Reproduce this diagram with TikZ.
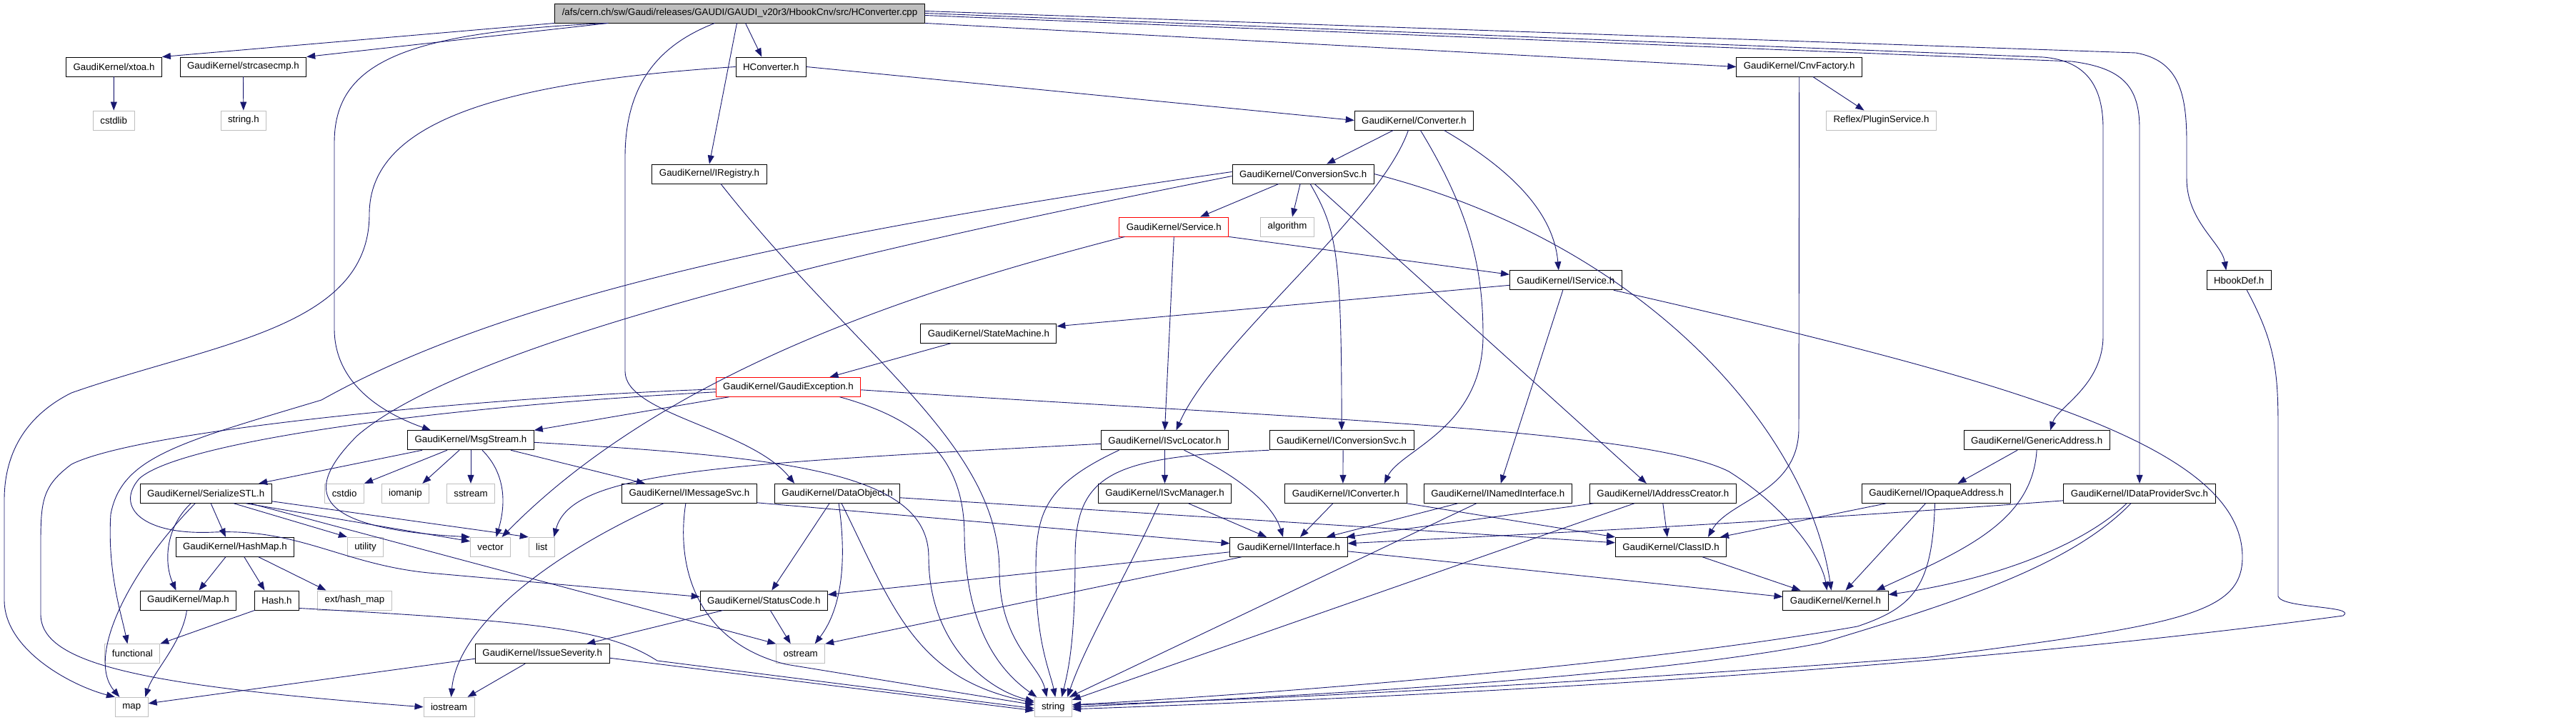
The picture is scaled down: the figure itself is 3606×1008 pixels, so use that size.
\documentclass[tikz,border=0pt]{standalone}
\usepackage{fontspec}
\newfontfamily\hdrfont{Liberation Sans}
\usetikzlibrary{arrows.meta}
\definecolor{edgeblue}{HTML}{191970}
\definecolor{sysgray}{HTML}{BFBFBF}
\tikzset{
  hdr/.style={draw=black, fill=white, line width=0.9pt, minimum height=27pt,
    inner xsep=10pt, inner ysep=0pt, font={\hdrfont\fontsize{13.3}{15}\selectfont}},
  syshdr/.style={hdr, draw=sysgray},
  cuthdr/.style={hdr, draw=red},
  srchdr/.style={hdr, fill=sysgray},
  dep/.style={draw=edgeblue, line width=0.9pt, -{Triangle[length=12pt,width=9pt]}}
}
\begin{document}
\begin{tikzpicture}[x=1pt, y=-1pt]
    \fill[white] (0,0) rectangle (3606,1008);
    \useasboundingbox (0,0) rectangle (3606,1008);

    % Source file
    \node[srchdr] (root) at (1035.5,18.5) {/afs/cern.ch/sw/Gaudi/releases/GAUDI/GAUDI\_v20r3/HbookCnv/src/HConverter.cpp};

    % Headers
    \node[hdr] (xtoa) at (159.5,93.5) {GaudiKernel/xtoa.h};
    \node[hdr] (strcasecmp) at (340.4,93.5) {GaudiKernel/strcasecmp.h};
    \node[hdr] (hconvh) at (1079.3,93.5) {HConverter.h};
    \node[hdr] (cnvfactory) at (2518.7,93.5) {GaudiKernel/CnvFactory.h};
    \node[syshdr] (cstdlib) at (159.2,168.5) {cstdlib};
    \node[syshdr] (stringh) at (340.9,168.5) {string.h};
    \node[hdr] (converter) at (1979.4,168.5) {GaudiKernel/Converter.h};
    \node[syshdr] (pluginsvc) at (2633.5,168.5) {Reflex/PluginService.h};
    \node[hdr] (iregistry) at (993,243.5) {GaudiKernel/IRegistry.h};
    \node[hdr] (conversionsvc) at (1824.1,243.5) {GaudiKernel/ConversionSvc.h};
    \node[cuthdr] (service) at (1643.3,317.5) {GaudiKernel/Service.h};
    \node[syshdr] (algorithm) at (1802,317.5) {algorithm};
    \node[hdr] (iservice) at (2191.8,392.3) {GaudiKernel/IService.h};
    \node[hdr] (hbookdef) at (3134.2,392.3) {HbookDef.h};
    \node[hdr] (statemachine) at (1383.9,466.8) {GaudiKernel/StateMachine.h};
    \node[cuthdr] (gaudiexception) at (1103.5,541.8) {GaudiKernel/GaudiException.h};
    \node[hdr] (msgstream) at (659,616.3) {GaudiKernel/MsgStream.h};
    \node[hdr] (isvclocator) at (1630.5,616.3) {GaudiKernel/ISvcLocator.h};
    \node[hdr] (iconversionsvc) at (1878.1,616.3) {GaudiKernel/IConversionSvc.h};
    \node[hdr] (genericaddr) at (2851.1,616.3) {GaudiKernel/GenericAddress.h};
    \node[hdr] (serializestl) at (288.2,690.8) {GaudiKernel/SerializeSTL.h};
    \node[syshdr] (cstdio) at (482.2,690.8) {cstdio};
    \node[syshdr] (iomanip) at (567.4,690.8) {iomanip};
    \node[syshdr] (sstream) at (659,690.8) {sstream};
    \node[hdr] (imessagesvc) at (964.9,690.8) {GaudiKernel/IMessageSvc.h};
    \node[hdr] (dataobject) at (1172.1,690.8) {GaudiKernel/DataObject.h};
    \node[hdr] (isvcmanager) at (1630.5,690.8) {GaudiKernel/ISvcManager.h};
    \node[hdr] (iconverter) at (1883.9,690.8) {GaudiKernel/IConverter.h};
    \node[hdr] (inamedinterface) at (2096.8,690.8) {GaudiKernel/INamedInterface.h};
    \node[hdr] (iaddresscreator) at (2327.8,690.8) {GaudiKernel/IAddressCreator.h};
    \node[hdr] (iopaqueaddress) at (2710.5,690.8) {GaudiKernel/IOpaqueAddress.h};
    \node[hdr] (idataprovidersvc) at (2995,690.8) {GaudiKernel/IDataProviderSvc.h};
    \node[hdr] (hashmap) at (328.9,765.8) {GaudiKernel/HashMap.h};
    \node[syshdr] (utility) at (511.5,765.8) {utility};
    \node[syshdr] (vector) at (686.6,765.8) {vector};
    \node[syshdr] (list) at (758.3,765.8) {list};
    \node[hdr] (iinterface) at (1804,765.8) {GaudiKernel/IInterface.h};
    \node[hdr] (classid) at (2339,765.8) {GaudiKernel/ClassID.h};
    \node[hdr] (gkmap) at (263.5,840.5) {GaudiKernel/Map.h};
    \node[hdr] (hash) at (387.5,840.5) {Hash.h};
    \node[syshdr] (exthashmap) at (496.5,840.5) {ext/hash\_map};
    \node[hdr] (statuscode) at (1069.3,840.5) {GaudiKernel/StatusCode.h};
    \node[hdr] (kernel) at (2569.5,840.5) {GaudiKernel/Kernel.h};
    \node[syshdr] (functional) at (185.4,915.2) {functional};
    \node[hdr] (issueseverity) at (759.2,915.2) {GaudiKernel/IssueSeverity.h};
    \node[syshdr] (ostream) at (1120.7,915.2) {ostream};
    \node[syshdr] (stdmap) at (184.3,989.8) {map};
    \node[syshdr] (iostream) at (628.5,989.8) {iostream};
    \node[syshdr] (string) at (1474.3,989.8) {string};

    % Includes of the source file
    \draw[dep] (root.south west) -- (xtoa.north east);
    \draw[dep] ([xshift=75pt]root.south west) -- (strcasecmp.north east);
    \draw[dep] ([xshift=8pt]root.south) -- ([xshift=-13pt]hconvh.north);
    \draw[dep] ([xshift=-4pt]root.south) -- (iregistry.north);
    \draw[dep] ([xshift=75pt]root.south west) .. controls (560,45) and (468,90) .. (468,200) -- (468,460) .. controls (468,540) and (540,580) .. ([xshift=-56pt]msgstream.north);
    \draw[dep] ([xshift=-35pt]root.south) .. controls (930,60) and (875,110) .. (875,220) -- (875,520) .. controls (875,580) and (1050,600) .. ([xshift=-60pt]dataobject.north);
    \draw[dep] (root.south east) -- (cnvfactory.west);
    \draw[dep] ([yshift=3pt]root.east) -- (2990,74) .. controls (3050,85) and (3061,130) .. (3061,200) -- (3061,250) .. controls (3061,310) and (3110,340) .. ([xshift=-18pt]hbookdef.north);
    \draw[dep] (root.east) -- (2860,80) .. controls (2920,85) and (2944,120) .. (2944,180) -- (2944,470) .. controls (2944,540) and (2880,570) .. ([xshift=19pt]genericaddr.north);
    \draw[dep] ([yshift=-3pt]root.east) -- (2900,86) .. controls (2970,95) and (2995,120) .. (2995,180) -- (idataprovidersvc.north);

    % Top level headers
    \draw[dep] (xtoa) -- (cstdlib);
    \draw[dep] (strcasecmp) -- (stringh);
    \draw[dep] (hconvh.east) -- (converter.west);
    \draw[dep] (hconvh.west) .. controls (700,115) and (517,170) .. (517,300) .. controls (517,460) and (300,480) .. (100,550) .. controls (40,580) and (6,630) .. (6,700) -- (6,840) .. controls (6,910) and (100,960) .. (stdmap.north west);
    \draw[dep] ([xshift=19pt]cnvfactory.south) -- ([xshift=-24pt]pluginsvc.north);
    \draw[dep] (cnvfactory.south) -- (2518,600) .. controls (2518,690) and (2420,700) .. ([xshift=52pt]classid.north);
    \draw[dep] ([xshift=16pt]iregistry.south) .. controls (1200,500) and (1399,620) .. (1399,800) .. controls (1399,900) and (1455,930) .. ([xshift=-9pt]string.north);

    % Converter
    \draw[dep] ([xshift=-29pt]converter.south) -- ([xshift=33pt]conversionsvc.north);
    \draw[dep] ([xshift=-8pt]converter.south) .. controls (1930,300) and (1700,480) .. ([xshift=16pt]isvclocator.north);
    \draw[dep] ([xshift=9pt]converter.south) .. controls (2060,300) and (2076,380) .. (2076,470) .. controls (2076,600) and (1960,630) .. ([xshift=54pt]iconverter.north);
    \draw[dep] ([xshift=42pt]converter.south) .. controls (2120,240) and (2175,300) .. ([xshift=-10pt]iservice.north);

    % ConversionSvc
    \draw[dep] ([xshift=-34pt]conversionsvc.south) -- ([xshift=37pt]service.north);
    \draw[dep] ([xshift=-4pt]conversionsvc.south) -- ([xshift=7pt]algorithm.north);
    \draw[dep] ([xshift=10pt]conversionsvc.south) .. controls (1870,320) and (1878,350) .. (iconversionsvc.north);
    \draw[dep] ([xshift=16pt]conversionsvc.south) -- ([xshift=-23pt]iaddresscreator.north);
    \draw[dep] (conversionsvc.east) .. controls (2300,340) and (2530,600) .. ([xshift=-6pt]kernel.north);
    \draw[dep] ([yshift=3pt]conversionsvc.west) .. controls (1100,330) and (700,420) .. (450,560) .. controls (250,620) and (170,640) .. (155,720) .. controls (150,800) and (170,860) .. ([xshift=-7pt]functional.north);
    \draw[dep] ([yshift=-3pt]conversionsvc.west) .. controls (1200,350) and (650,480) .. (500,610) .. controls (420,690) and (440,740) .. (vector.north west);

    % Service
    \draw[dep] (service.south east) -- ([yshift=8pt]iservice.west);
    \draw[dep] (service.south) -- (isvclocator.north);
    \draw[dep] ([xshift=-69pt]service.south) .. controls (1350,390) and (950,500) .. ([xshift=16pt]vector.north);

    % IService
    \draw[dep] ([yshift=-7pt]iservice.west) -- ([yshift=10pt]statemachine.east);
    \draw[dep] ([xshift=-4pt]iservice.south) -- ([xshift=4pt]inamedinterface.north);
    \draw[dep] ([xshift=67pt]iservice.south) .. controls (2800,530) and (3139,620) .. (3139,780) .. controls (3139,860) and (3050,875) .. (2700,920) .. controls (2300,950) and (1800,980) .. ([yshift=3pt]string.east);
    \draw[dep] ([xshift=11pt]hbookdef.south) .. controls (3185,480) and (3189,520) .. (3189,600) -- (3189,835) .. controls (3195,852) and (3300,848) .. (3280,862) .. controls (2700,940) and (2000,975) .. ([yshift=-3pt]string.east);

    % GaudiException
    \draw[dep] ([xshift=-53pt]statemachine.south) -- ([xshift=58pt]gaudiexception.north);
    \draw[dep] ([xshift=-83pt]gaudiexception.south) -- (msgstream.north east);
    \draw[dep] ([yshift=-3pt]gaudiexception.west) .. controls (700,555) and (200,600) .. (100,650) .. controls (60,680) and (57,700) .. (57,760) -- (57,860) .. controls (57,930) and (200,960) .. (iostream.west);
    \draw[dep] ([yshift=-7pt]gaudiexception.west) .. controls (600,570) and (250,620) .. (195,670) .. controls (160,710) and (200,750) .. (300,745) .. controls (420,740) and (480,790) .. (600,802) -- ([yshift=5pt]statuscode.west);
    \draw[dep] ([yshift=-4pt]gaudiexception.east) .. controls (1800,585) and (2300,600) .. (2420,660) .. controls (2500,710) and (2550,780) .. ([xshift=-12pt]kernel.north);
    \draw[dep] ([xshift=72pt]gaudiexception.south) .. controls (1300,590) and (1350,650) .. (1350,750) .. controls (1352,880) and (1400,940) .. ([xshift=-23pt]string.north);

    % MsgStream
    \draw[dep] ([xshift=-68pt]msgstream.south) -- ([xshift=74pt]serializestl.north);
    \draw[dep] ([xshift=-33pt]msgstream.south) -- (cstdio.north east);
    \draw[dep] ([xshift=-16pt]msgstream.south) -- ([xshift=24pt]iomanip.north);
    \draw[dep] (msgstream) -- (sstream);
    \draw[dep] ([xshift=16pt]msgstream.south) .. controls (705,660) and (710,700) .. ([xshift=8pt]vector.north);
    \draw[dep] ([xshift=56pt]msgstream.south) -- ([xshift=-62pt]imessagesvc.north);
    \draw[dep] ([yshift=-3pt]msgstream.east) .. controls (1100,640) and (1300,660) .. (1300,780) .. controls (1300,900) and (1380,965) .. ([yshift=8pt]string.west);

    % SerializeSTL
    \draw[dep] ([xshift=-15pt]serializestl.south) .. controls (180,800) and (120,920) .. ([xshift=-17pt]stdmap.north);
    \draw[dep] ([xshift=-21pt]serializestl.south) .. controls (230,740) and (230,790) .. ([xshift=-17pt]gkmap.north);
    \draw[dep] ([xshift=7pt]serializestl.south) -- ([xshift=-13pt]hashmap.north);
    \draw[dep] ([xshift=39pt]serializestl.south) -- (utility.north west);
    \draw[dep] ([xshift=56pt]serializestl.south) -- ([yshift=-6pt]vector.north west);
    \draw[dep] ([xshift=62pt]serializestl.south) -- (ostream.north west);
    \draw[dep] ([yshift=-11pt]serializestl.east) -- (list.north west);

    % HashMap, Map, Hash
    \draw[dep] ([xshift=-13pt]hashmap.south) -- ([xshift=15pt]gkmap.north);
    \draw[dep] ([xshift=13pt]hashmap.south) -- ([xshift=-17pt]hash.north);
    \draw[dep] ([xshift=33pt]hashmap.south) -- ([xshift=-40pt]exthashmap.north);
    \draw[dep] ([xshift=-2pt]gkmap.south) .. controls (255,900) and (215,940) .. ([xshift=19pt]stdmap.north);
    \draw[dep] ([xshift=-31pt]hash.south) -- (functional.north east);
    \draw[dep] ([yshift=-11pt]hash.east) .. controls (750,870) and (850,880) .. (920,925) -- ([yshift=-2pt]string.west);

    % StatusCode, IssueSeverity
    \draw[dep] ([xshift=-57pt]statuscode.south) -- ([xshift=62pt]issueseverity.north);
    \draw[dep] ([xshift=9pt]statuscode.south) -- ([xshift=-14pt]ostream.north);
    \draw[dep] ([yshift=-7pt]issueseverity.west) -- ([yshift=5pt]stdmap.east);
    \draw[dep] ([xshift=-24pt]issueseverity.south) -- ([xshift=26pt]iostream.north);
    \draw[dep] ([yshift=-6pt]issueseverity.east) -- ([yshift=-5pt]string.west);

    % IMessageSvc, DataObject
    \draw[dep] ([xshift=-36pt]imessagesvc.south) .. controls (760,780) and (640,880) .. ([xshift=3pt]iostream.north);
    \draw[dep] ([xshift=-5pt]imessagesvc.south) .. controls (945,800) and (980,900) .. (1100,930) -- ([yshift=3pt]string.west);
    \draw[dep] ([yshift=-13pt]imessagesvc.east) -- ([yshift=5pt]iinterface.west);
    \draw[dep] ([xshift=-11pt]dataobject.south) -- ([xshift=11pt]statuscode.north);
    \draw[dep] ([xshift=2pt]dataobject.south) .. controls (1185,780) and (1180,850) .. ([xshift=20pt]ostream.north);
    \draw[dep] ([xshift=6pt]dataobject.south) .. controls (1250,850) and (1280,950) .. ([yshift=6pt]string.west);
    \draw[dep] ([yshift=-6pt]dataobject.east) -- ([yshift=6pt]classid.west);

    % ISvcLocator, ISvcManager, IConversionSvc
    \draw[dep] (isvclocator) -- (isvcmanager);
    \draw[dep] ([xshift=27pt]isvclocator.south) .. controls (1720,660) and (1780,700) .. ([xshift=-8pt]iinterface.north);
    \draw[dep] ([xshift=-64pt]isvclocator.south) .. controls (1460,680) and (1450,720) .. (1450,800) .. controls (1450,900) and (1470,940) .. ([xshift=3pt]string.north);
    \draw[dep] ([yshift=-5pt]isvclocator.west) .. controls (1000,650) and (800,660) .. ([xshift=17pt]list.north);
    \draw[dep] ([xshift=33pt]isvcmanager.south) -- ([xshift=-31pt]iinterface.north);
    \draw[dep] ([xshift=-8pt]isvcmanager.south) .. controls (1580,800) and (1520,900) .. ([xshift=20pt]string.north);
    \draw[dep] ([xshift=2pt]iconversionsvc.south) -- ([xshift=-4pt]iconverter.north);
    \draw[dep] (iconversionsvc.south west) .. controls (1560,640) and (1505,660) .. (1505,780) .. controls (1505,900) and (1495,940) .. ([xshift=12pt]string.north);

    % Interfaces
    \draw[dep] ([xshift=-18pt]iconverter.south) -- ([xshift=16pt]iinterface.north);
    \draw[dep] (iconverter.south east) -- (classid.north west);
    \draw[dep] ([xshift=-56pt]inamedinterface.south) -- ([xshift=53pt]iinterface.north);
    \draw[dep] ([xshift=-30pt]inamedinterface.south) -- ([xshift=-4pt]string.north east);
    \draw[dep] ([xshift=-97pt]iaddresscreator.south) -- ([xshift=-2pt]iinterface.north east);
    \draw[dep] (iaddresscreator.south) -- ([xshift=-5pt]classid.north);
    \draw[dep] ([xshift=-40pt]iaddresscreator.south) -- ([yshift=-4pt]string.north east);
    \draw[dep] ([xshift=-70pt]iopaqueaddress.south) -- ([xshift=-9pt]classid.north east);
    \draw[dep] ([xshift=-15pt]iopaqueaddress.south) -- ([xshift=14pt]kernel.north);
    \draw[dep] ([xshift=-2pt]iopaqueaddress.south) .. controls (2705,820) and (2680,850) .. (2600,877) .. controls (2300,930) and (1800,970) .. ([yshift=3pt]string.east);
    \draw[dep] ([yshift=-10pt]idataprovidersvc.west) .. controls (2500,730) and (2200,745) .. ([yshift=5pt]iinterface.east);
    \draw[dep] ([xshift=-18pt]idataprovidersvc.south) .. controls (2920,760) and (2800,810) .. ([yshift=8pt]kernel.east);
    \draw[dep] ([xshift=-12pt]idataprovidersvc.south) .. controls (2900,790) and (2750,840) .. (2550,900) .. controls (2300,950) and (1800,975) .. (string.east);
    \draw[dep] ([xshift=-27pt]genericaddr.south) -- ([xshift=30pt]iopaqueaddress.north);
    \draw[dep] (genericaddr.south) .. controls (2845,730) and (2750,770) .. ([xshift=57pt]kernel.north);

    % Bottom
    \draw[dep] ([yshift=-7pt]iinterface.west) -- ([yshift=8pt]statuscode.east);
    \draw[dep] ([xshift=-66pt]iinterface.south) -- (ostream.north east);
    \draw[dep] ([yshift=-6pt]iinterface.east) -- ([yshift=5pt]kernel.west);
    \draw[dep] ([xshift=44pt]classid.south) -- ([xshift=-49pt]kernel.north);
\end{tikzpicture}
\end{document}
